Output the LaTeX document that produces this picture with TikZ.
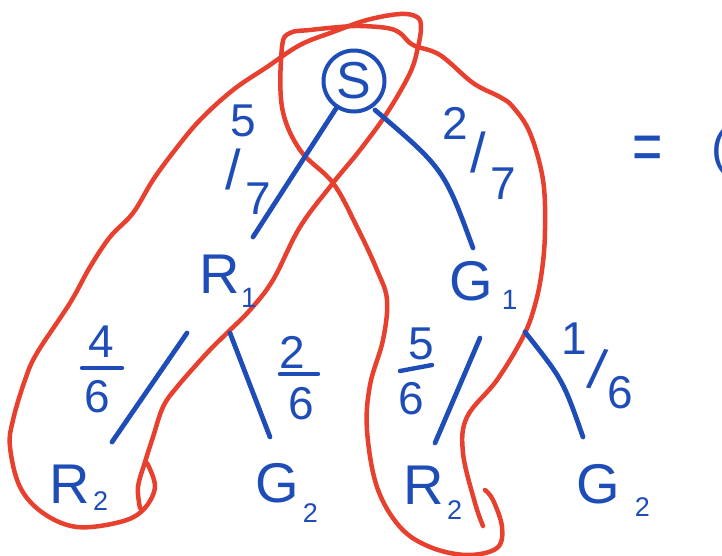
\documentclass[tikz,border=0pt]{standalone}
\usepackage{fontspec}
\setmainfont{Liberation Sans}
\usetikzlibrary{calc}
\definecolor{ink}{HTML}{1E4DB7}
\definecolor{hullred}{HTML}{E8402F}
\newcommand\withsub[5]{#1\rlap{\smash{\hspace{#3}\raisebox{-#4}{\fontsize{#5}{#5}\selectfont #2}}}}
\begin{document}
\begin{tikzpicture}[x=1pt,y=-1pt,
  lbl/.style={text=ink, inner sep=0pt, font=\fontsize{56}{56}\selectfont},
  num/.style={text=ink, inner sep=0pt, font=\fontsize{46}{46}\selectfont},
  slash/.style={text=ink, inner sep=0pt, font=\fontsize{56}{56}\selectfont},
  edge/.style={draw=ink, line width=4.8pt, line cap=round},
  bar/.style={draw=ink, line width=4.4pt, line cap=round},
  hull/.style={draw=hullred, line width=4.5pt, line cap=round, line join=round}]
\useasboundingbox (0,0) rectangle (722,556);
\clip (0,0) rectangle (722,556);

% red enclosures
\draw[hull] plot[smooth, tension=0.6] coordinates {
 (147,463) (155,487) (143,510) (120,522) (77,527) (43,513) (20,487) (10,447)
 (13,420) (25,380) (37,353) (70,303) (90,267) (110,237) (133,213) (153,180)
 (175,150) (200,120) (233,90) (267,67) (300,45) (333,32) (367,20) (400,14)
 (417,17) (421,27) (418,47) (410,73) (387,113) (360,150) (333,183) (300,227)
 (273,280) (250,310) (227,333) (207,353) (177,387) (163,407) (153,437)
 (145,462) (138,487) (140,508)};
\draw[hull] plot[smooth, tension=0.6] coordinates {
 (483,526) (475,503) (463,453) (467,417) (497,380) (523,337) (535,305)
 (542,270) (545,230) (543,180) (530,133) (513,107) (500,97) (473,83) (440,55)
 (413,45) (400,33) (387,28) (360,26) (340,27) (310,30) (290,33) (282,47)
 (282,107) (300,150) (333,183) (357,227) (377,270) (387,300) (383,340)
 (370,385) (367,430) (377,487) (400,527) (430,547) (467,555) (497,548)
 (502,527) (493,500) (485,490)};

% tree nodes
\node[lbl, circle, draw=ink, line width=4pt, minimum size=61pt,
      font=\fontsize{52}{52}\selectfont] (S) at (354,81) {S};
\node[lbl] (R1) at (220,274) {\withsub{R}{1}{1pt}{14pt}{28}};
\node[lbl] (G1) at (471,281) {\withsub{G}{1}{9pt}{9pt}{28}};
\node[lbl] (R2a) at (70,484) {\withsub{R}{2}{3pt}{7pt}{27}};
\node[lbl] (G2a) at (277,483) {\withsub{G}{2}{4pt}{20pt}{27}};
\node[lbl] (R2b) at (424,485) {\withsub{R}{2}{3pt}{15pt}{27}};
\node[lbl] (G2b) at (598,484) {\withsub{G}{2}{15pt}{13pt}{27}};

% branches
\draw[edge] ($(S)+(-17,26)$) -- ($(R1)+(33,-37)$);
\draw[edge] ($(S)+(21,29)$) .. controls ($(S)+(90,88)$) .. ($(G1)+(2,-33)$);
\draw[edge] ($(R1)+(-33,59)$) -- ($(R2a)+(42,-42)$);
\draw[edge] ($(R1)+(10,59)$) -- ($(G2a)+(-7,-46)$);
\draw[edge] ($(G1)+(9,57)$) -- ($(R2b)+(11,-42)$);
\draw[edge] ($(G1)+(54,51)$) .. controls ($(G1)+(92,99)$) .. ($(G2b)+(-15,-47)$);

% diagonal fractions
\node[num] (n57) at (243,121) {5};
\node[slash] (s57) at (233,169) {/};
\node[num] (d57) at (258,199) {7};
\node[num] (n27) at (455,123) {2};
\node[slash] (s27) at (478,152) {/};
\node[num] (d27) at (503,184) {7};
\node[num] (n16) at (574,339) {1};
\node[slash, rotate=-10] (s16) at (598,369) {/};
\node[num] (d16) at (620,393) {6};

% stacked fractions
\node[num] (n46) at (101,342) {4};
\node[num] (d46) at (97,397) {6};
\draw[bar] ($(n46)+(-19,26)$) -- ($(n46)+(21,26)$);
\node[num] (n26) at (292,352) {2};
\node[num] (d26) at (301,404) {6};
\draw[bar] ($(n26)+(-12,22)$) -- ($(n26)+(26,22)$);
\node[num] (n56) at (421,344) {5};
\node[num] (d56) at (411,399) {6};
\draw[bar] ($(n56)+(-21,27)$) -- ($(n56)+(11,21)$);

% equals and bracket
\node[text=ink, inner sep=0pt, font=\fontsize{52}{52}\selectfont] (eq) at (648,153) {\scalebox{1}[1.35]{=}};
\node[text=ink, inner sep=0pt, font=\fontsize{50}{50}\selectfont, anchor=west] (par) at (711,152) {(};
\end{tikzpicture}
\end{document}
